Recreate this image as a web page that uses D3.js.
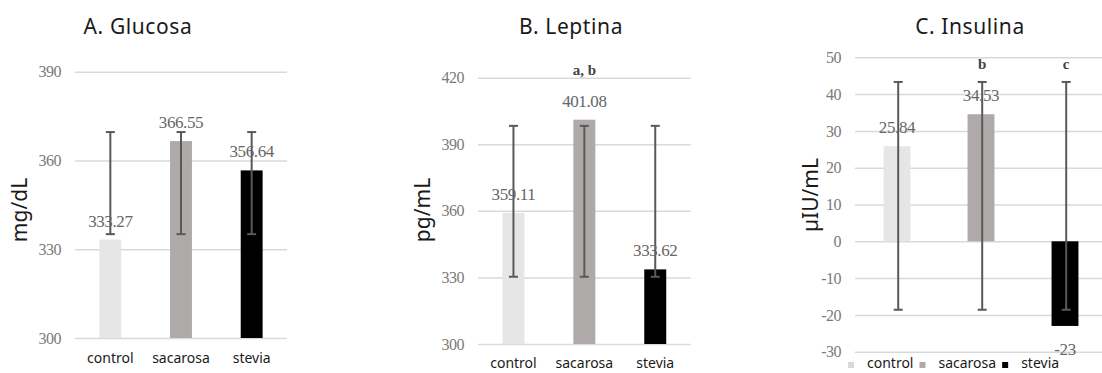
<!DOCTYPE html>
<html><head><meta charset="utf-8">
<script src="https://cdn.jsdelivr.net/npm/d3@7"></script>
<style>
html,body{margin:0;padding:0;background:#fff;}
svg{display:block;}
</style></head>
<body>
<svg id="chart" width="1102" height="373"></svg>
<script>
// ---- data ----
const categories = ["control", "sacarosa", "stevia"];
const colors = ["#e6e6e6", "#aeaaaa", "#000000"];

const glucosaValues = [333.27, 366.55, 356.64];
const glucosaErrLow = [335.1, 335.1, 335.1];
const glucosaErrHigh = [369.6, 369.6, 369.6];
const glucosaTicks = [300, 330, 360, 390];
const glucosaLetters = ["", "", ""];

const leptinaValues = [359.11, 401.08, 333.62];
const leptinaErrLow = [330.3, 330.3, 330.3];
const leptinaErrHigh = [398.3, 398.3, 398.3];
const leptinaTicks = [300, 330, 360, 390, 420];
const leptinaLetters = ["", "a, b", ""];

const insulinaValues = [25.84, 34.53, -23];
const insulinaErrLow = [-18.6, -18.6, -18.6];
const insulinaErrHigh = [43.3, 43.3, 43.3];
const insulinaTicks = [-30, -20, -10, 0, 10, 20, 30, 40, 50];
const insulinaLetters = ["", "b", "c"];

// ---- layout ----
const svg = d3.select("#chart");
const sans = "'Noto Sans', 'Open Sans', sans-serif";
const serif = "'Liberation Serif', 'DejaVu Serif', serif";

function panel(o) {
  const g = svg.append("g");
  const x = d3.scaleBand().domain(categories).range([o.left, o.right])
    .paddingInner(o.pad).paddingOuter(o.pad / 2);
  const y = d3.scaleLinear().domain(o.domain).range([o.bottom, o.top]);

  // title
  g.append("text").attr("x", o.titleX).attr("y", 34).attr("text-anchor", "middle")
    .attr("font-family", sans).attr("font-size", 21).attr("letter-spacing", 0.6)
    .attr("fill", "#1a1a1a").text(o.title);

  // gridlines + tick labels via axis
  const axis = d3.axisLeft(y).tickValues(o.ticks).tickSize(-(o.gridRight - o.left)).tickPadding(14)
    .tickFormat(d => String(d));
  const ag = g.append("g").attr("transform", `translate(${o.left},0)`).call(axis);
  ag.select(".domain").remove();
  ag.selectAll(".tick line").attr("stroke", "#d9d9d9").attr("stroke-width", 1.5);
  ag.selectAll(".tick text").attr("font-family", serif).attr("font-size", 16)
    .attr("fill", "#7a7a7a").attr("letter-spacing", -0.5);

  // y title
  g.append("text").attr("transform", `translate(${o.yTitleX},${o.yTitleY}) rotate(-90)`)
    .attr("text-anchor", "middle").attr("font-family", sans).attr("font-size", 21)
    .attr("fill", "#1a1a1a").text(o.yTitle);

  const data = categories.map((c, i) => ({c, v: o.values[i], lo: o.lo[i], hi: o.hi[i], col: colors[i], letter: o.letters[i]}));

  // bars
  g.selectAll("rect.bar").data(data).join("rect").attr("class", "bar")
    .attr("x", d => x(d.c)).attr("width", x.bandwidth())
    .attr("y", d => Math.min(y(d.v), y(o.base)))
    .attr("height", d => Math.abs(y(d.v) - y(o.base)))
    .attr("fill", d => d.col);

  // error bars
  const cx = d => x(d.c) + x.bandwidth() / 2 + o.errShift;
  const eg = g.selectAll("g.err").data(data).join("g").attr("class", "err")
    .attr("stroke", "#595959").attr("stroke-width", 2);
  eg.append("line").attr("x1", cx).attr("x2", cx).attr("y1", d => y(d.lo)).attr("y2", d => y(d.hi));
  eg.append("line").attr("x1", d => cx(d) - 4.5).attr("x2", d => cx(d) + 4.5).attr("y1", d => y(d.lo)).attr("y2", d => y(d.lo));
  eg.append("line").attr("x1", d => cx(d) - 4.5).attr("x2", d => cx(d) + 4.5).attr("y1", d => y(d.hi)).attr("y2", d => y(d.hi));

  // value labels
  g.selectAll("text.val").data(data).join("text").attr("class", "val")
    .attr("x", d => x(d.c) + x.bandwidth() / 2)
    .attr("y", d => d.v >= 0 ? y(d.v) - 19 : y(d.v) + 23)
    .attr("dy", "0.35em").attr("text-anchor", "middle")
    .attr("font-family", serif).attr("font-size", 17).attr("fill", "#666")
    .attr("letter-spacing", -0.4)
    .text(d => String(d.v));

  // significance letters
  g.selectAll("text.sig").data(data.filter(d => d.letter)).join("text").attr("class", "sig")
    .attr("x", d => x(d.c) + x.bandwidth() / 2 + o.errShift)
    .attr("y", o.letterY).attr("dy", "0.35em").attr("text-anchor", "middle")
    .attr("font-family", serif).attr("font-size", 15).attr("font-weight", "bold")
    .attr("fill", "#444").text(d => d.letter);

  // category labels or legend
  if (o.catY) {
    g.selectAll("text.cat").data(data).join("text").attr("class", "cat")
      .attr("x", d => x(d.c) + x.bandwidth() / 2).attr("y", o.catY).attr("dy", "0.35em")
      .attr("text-anchor", "middle").attr("font-family", sans).attr("font-size", 14)
      .attr("fill", "#1a1a1a").text(d => d.c);
  }
  if (o.legend) {
    const lg = g.append("g");
    lg.append("rect").attr("x", o.legend.x - 2).attr("y", o.legend.y - 8).attr("width", 218).attr("height", 17).attr("fill", "#fff");
    let lx = o.legend.x;
    data.forEach((d, i) => {
      lg.append("rect").attr("x", lx).attr("y", o.legend.y - 1).attr("width", 6).attr("height", 6)
        .attr("fill", i === 0 ? "#d9d9d9" : d.col);
      lg.append("text").attr("x", lx + 19).attr("y", o.legend.y).attr("dy", "0.35em")
        .attr("font-family", sans).attr("font-size", 14).attr("fill", "#1a1a1a").text(d.c)
        .each(function () { lx = lx + 19 + this.getComputedTextLength() + 6; });
    });
  }
}

panel({title: "A. Glucosa", titleX: 138, yTitle: "mg/dL", yTitleX: 27, yTitleY: 210,
  left: 75, right: 287, gridRight: 287, top: 71.7, bottom: 338, domain: [300, 390], base: 300,
  pad: 0.69, ticks: glucosaTicks, values: glucosaValues, lo: glucosaErrLow, hi: glucosaErrHigh,
  letters: glucosaLetters, letterY: 60, errShift: 0, catY: 358});

panel({title: "B. Leptina", titleX: 571, yTitle: "pg/mL", yTitleX: 430, yTitleY: 210,
  left: 478, right: 690.7, gridRight: 690.7, top: 77.7, bottom: 344, domain: [300, 420], base: 300,
  pad: 0.69, ticks: leptinaTicks, values: leptinaValues, lo: leptinaErrLow, hi: leptinaErrHigh,
  letters: leptinaLetters, letterY: 70, errShift: 0, catY: 363});

panel({title: "C. Insulina", titleX: 970, yTitle: "µIU/mL", yTitleX: 818, yTitleY: 195,
  left: 855, right: 1107, gridRight: 1107, top: 57.3, bottom: 351.7, domain: [-30, 50], base: 0,
  pad: 0.68, ticks: insulinaTicks, values: insulinaValues, lo: insulinaErrLow, hi: insulinaErrHigh,
  letters: insulinaLetters, letterY: 63.3, errShift: 1.2, catY: null, legend: {x: 848, y: 363}});
</script>
</body></html>
